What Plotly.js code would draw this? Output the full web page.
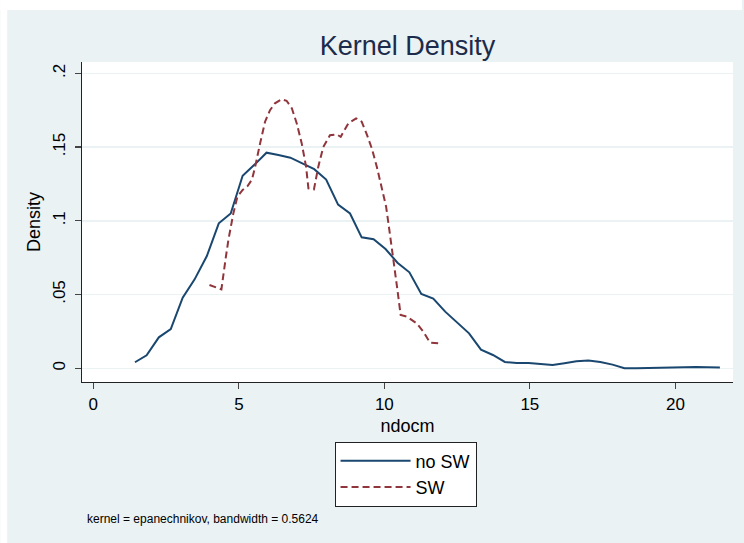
<!DOCTYPE html>
<html>
<head>
<meta charset="utf-8">
<script src="https://cdn.plot.ly/plotly-3.0.1.min.js"></script>
<style>html,body{margin:0;padding:0;background:#fff;}#chart{width:744px;height:543px;}</style>
</head>
<body>
<div id="chart"></div>
<script>
// No SW kernel density estimate
var noSwX = [1.43, 1.83, 2.25, 2.66, 3.07, 3.48, 3.90, 4.31, 4.72, 5.13, 5.55, 5.95, 6.36, 6.77, 7.18, 7.59, 8.00, 8.41, 8.82, 9.22, 9.63, 10.04, 10.45, 10.86, 11.27, 11.68, 12.09, 12.50, 12.91, 13.32, 13.73, 14.14, 14.55, 14.96, 15.37, 15.78, 16.19, 16.60, 17.01, 17.42, 17.84, 18.25, 18.66, 19.07, 19.48, 19.89, 20.30, 20.71, 21.12, 21.53];
var noSwY = [0.0041, 0.0088, 0.0210, 0.0266, 0.0479, 0.0603, 0.0761, 0.0983, 0.1050, 0.1306, 0.1383, 0.1462, 0.1446, 0.1428, 0.1390, 0.1350, 0.1280, 0.1110, 0.1050, 0.0888, 0.0875, 0.0809, 0.0716, 0.0651, 0.0504, 0.0472, 0.0384, 0.0312, 0.0237, 0.0126, 0.0090, 0.0043, 0.0036, 0.0036, 0.0029, 0.0022, 0.0034, 0.0047, 0.0052, 0.0043, 0.0025, 0.0001, 0.0001, 0.0003, 0.0005, 0.0007, 0.0009, 0.0009, 0.0007, 0.0005];
// SW kernel density estimate
var swX = [3.99, 4.15, 4.31, 4.40, 4.55, 4.64, 4.81, 4.95, 5.13, 5.30, 5.45, 5.56, 5.73, 5.90, 6.07, 6.24, 6.47, 6.64, 6.82, 6.99, 7.16, 7.31, 7.39, 7.58, 7.73, 7.90, 8.13, 8.36, 8.50, 8.76, 9.03, 9.22, 9.39, 9.57, 9.74, 9.91, 10.06, 10.14, 10.31, 10.45, 10.56, 10.77, 11.11, 11.34, 11.57, 11.86];
var swY = [0.0565, 0.0555, 0.0540, 0.0535, 0.0750, 0.0870, 0.1050, 0.1163, 0.1210, 0.1235, 0.1280, 0.1367, 0.1525, 0.1672, 0.1750, 0.1797, 0.1824, 0.1814, 0.1763, 0.1660, 0.1525, 0.1367, 0.1220, 0.1213, 0.1367, 0.1500, 0.1580, 0.1586, 0.1570, 0.1660, 0.1695, 0.1672, 0.1590, 0.1490, 0.1367, 0.1230, 0.1096, 0.0983, 0.0712, 0.0530, 0.0361, 0.0350, 0.0305, 0.0248, 0.0174, 0.0170];

var seriesNames = ["no SW", "SW"];
var yTickVals = [0, 0.05, 0.1, 0.15, 0.2];
var yTickText = ["0", ".05", ".1", ".15", ".2"];
var xTickVals = [0, 5, 10, 15, 20];
var xTickText = ["0", "5", "10", "15", "20"];

var FONT = "Liberation Sans, Arial, Helvetica, sans-serif";
var BG = "#eaf2f3";

var traces = [
  {x: noSwX, y: noSwY, type: "scatter", mode: "lines", name: seriesNames[0],
   line: {color: "#1a476f", width: 2}},
  {x: swX, y: swY, type: "scatter", mode: "lines", name: seriesNames[1],
   line: {color: "#90353b", width: 2, dash: "7px,4px"}}
];

var layout = {
  width: 744, height: 543,
  margin: {l: 82, r: 11, t: 62, b: 161},
  paper_bgcolor: BG,
  plot_bgcolor: "#ffffff",
  font: {family: FONT, color: "#000"},
  title: {text: "Kernel Density", font: {family: FONT, size: 27, color: "#1c2b4c"},
          x: 0.5, xref: "paper", xanchor: "center", y: 1 - 46/543, yanchor: "middle"},
  showlegend: true,
  legend: {x: 0.497, xanchor: "center", y: -0.186, yanchor: "top",
           bgcolor: "#ffffff", bordercolor: "#222", borderwidth: 1, itemwidth: 70,
           font: {family: FONT, size: 18, color: "#000"}, tracegroupgap: 0},
  xaxis: {
    range: [-0.39, 21.98], tickvals: xTickVals, ticktext: xTickText,
    showgrid: false, zeroline: false,
    showline: true, linecolor: "#222", linewidth: 1.2,
    ticks: "outside", ticklen: 6, tickwidth: 1.2, tickcolor: "#444",
    tickfont: {family: FONT, size: 17, color: "#000"},
    title: {text: "ndocm", font: {family: FONT, size: 18, color: "#000"}, standoff: 6}
  },
  yaxis: {
    range: [-0.0093, 0.2077], tickvals: yTickVals, ticktext: yTickText,
    tickangle: -90, ticklabelstandoff: 3,
    showgrid: true, gridcolor: BG, gridwidth: 1.5, zeroline: false,
    showline: true, linecolor: "#222", linewidth: 1.2,
    ticks: "outside", ticklen: 6, tickwidth: 1.2, tickcolor: "#444",
    tickfont: {family: FONT, size: 17, color: "#000"},
    title: {text: "Density", font: {family: FONT, size: 18, color: "#000"}, standoff: 4}
  },
  annotations: [
    {text: "kernel = epanechnikov, bandwidth = 0.5624", xref: "paper", yref: "paper",
     x: 0.0046, y: -0.428, xanchor: "left", yanchor: "middle", showarrow: false,
     font: {family: FONT, size: 12, color: "#000"}}
  ],
  shapes: [
    {type: "rect", xref: "paper", yref: "paper", x0: -82/653, x1: (744-82)/653 ,
     y0: 1 + 52/320, y1: 1 + 62/320, fillcolor: "#ffffff", line: {width: 0}},
    {type: "rect", xref: "paper", yref: "paper", x0: -82/653, x1: -75/653,
     y0: -161/320, y1: 1 + 62/320, fillcolor: "#ffffff", line: {width: 0}}
  ]
};

Plotly.newPlot("chart", traces, layout, {displayModeBar: false, staticPlot: true});
</script>
</body>
</html>
